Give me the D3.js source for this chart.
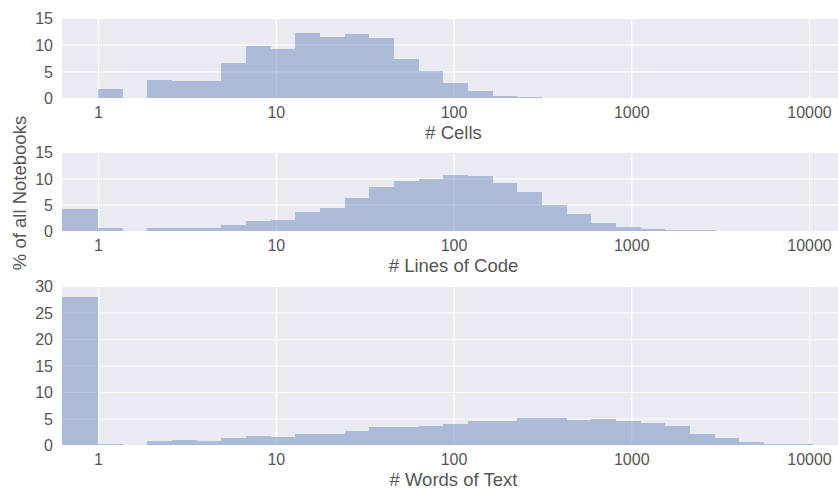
<!DOCTYPE html>
<html>
<head>
<meta charset="utf-8">
<script src="https://cdn.jsdelivr.net/npm/d3@7/dist/d3.min.js"></script>
<style>
  html, body { margin: 0; padding: 0; background: #ffffff; }
  svg { display: block; }
  text { font-family: "Liberation Sans", Arial, Helvetica, sans-serif; fill: #555555; }
</style>
</head>
<body>
<svg id="chart" width="838" height="488"></svg>
<script>
// Histogram bin edges (log-spaced); the first bin holds notebooks with a count of 0
const binEdges = [1, 1.376, 1.894, 2.608, 3.590, 4.941, 6.802, 9.362, 12.89, 17.74,
  24.42, 33.61, 46.27, 63.69, 87.67, 120.7, 166.1, 228.6, 314.7, 433.2,
  596.3, 820.8, 1130, 1555, 2140, 2946, 4055, 5582, 7683, 10574, 14555];
const zeroBinLow = 0.5;

// Percent of all notebooks per bin: [zero bin, then one value per log bin]
const cellsPct = [0, 1.6, 0, 3.35, 3.15, 3.15, 6.65, 9.7, 9.1, 12.1, 11.45, 12.05, 11.2, 7.4,
  5.05, 2.8, 1.25, 0.4, 0.2, 0, 0, 0, 0, 0, 0, 0, 0, 0, 0, 0, 0];
const locPct = [4.2, 0.63, 0, 0.6, 0.6, 0.6, 1.14, 1.9, 2.15, 3.55, 4.38, 6.35, 8.38, 9.4,
  9.84, 10.67, 10.48, 9.08, 7.49, 4.95, 3.17, 1.59, 0.7, 0.3, 0.13, 0.1, 0, 0, 0, 0, 0];
const wordsPct = [28.0, 0.25, 0, 0.75, 0.88, 0.7, 1.32, 1.7, 1.5, 2.13, 2.13, 2.7, 3.33, 3.4,
  3.58, 3.96, 4.53, 4.53, 5.15, 5.15, 4.65, 4.9, 4.53, 4.2, 3.65, 2.0, 1.26, 0.63, 0.25, 0.15, 0.05];

const xTicks = [1, 10, 100, 1000, 10000];
const xLabels = ["# Cells", "# Lines of Code", "# Words of Text"];
const yTicksSmall = [0, 5, 10, 15];
const yTicksLarge = [0, 5, 10, 15, 20, 25, 30];
const yLabel = "% of all Notebooks";

const svg = d3.select("#chart");
const left = 62, right = 845;
const x = d3.scaleLog().domain([0.627, 15942]).range([left, right]);

const panels = [
  { values: cellsPct, top: 18, bottom: 98, yMax: 15, yTicks: yTicksSmall, label: xLabels[0] },
  { values: locPct, top: 152, bottom: 231, yMax: 15, yTicks: yTicksSmall, label: xLabels[1] },
  { values: wordsPct, top: 286, bottom: 445, yMax: 30, yTicks: yTicksLarge, label: xLabels[2] }
];

panels.forEach((p, i) => {
  const y = d3.scaleLinear().domain([0, p.yMax]).range([p.bottom, p.top]);
  const g = svg.append("g");

  g.append("clipPath").attr("id", "clip" + i)
    .append("rect").attr("x", left).attr("y", p.top)
    .attr("width", right - left).attr("height", p.bottom - p.top);

  g.append("rect")
    .attr("x", left).attr("y", p.top)
    .attr("width", right - left).attr("height", p.bottom - p.top)
    .attr("fill", "#eaeaf2");

  // white grid lines
  const gridX = g.append("g").attr("transform", `translate(0,${p.bottom})`)
    .call(d3.axisBottom(x).tickValues(xTicks).tickSize(-(p.bottom - p.top)).tickFormat(""));
  const gridY = g.append("g").attr("transform", `translate(${left},0)`)
    .call(d3.axisLeft(y).tickValues(p.yTicks).tickSize(-(right - left)).tickFormat(""));
  [gridX, gridY].forEach(a => {
    a.select(".domain").remove();
    a.selectAll("line").attr("stroke", "#ffffff").attr("stroke-width", 1.2);
  });

  // bars
  const bins = p.values.map((v, k) => ({
    x0: k === 0 ? zeroBinLow : binEdges[k - 1],
    x1: k === 0 ? binEdges[0] : binEdges[k],
    v
  })).filter(b => b.v > 0);

  g.append("g").attr("clip-path", `url(#clip${i})`)
    .selectAll("rect").data(bins).join("rect")
    .attr("x", d => x(d.x0))
    .attr("width", d => x(d.x1) - x(d.x0))
    .attr("y", d => y(d.v))
    .attr("height", d => y(0) - y(d.v))
    .attr("fill", "#4c72b0")
    .attr("fill-opacity", 0.4)
    .attr("shape-rendering", "crispEdges");

  // tick labels
  const ax = g.append("g").attr("transform", `translate(0,${p.bottom})`)
    .call(d3.axisBottom(x).tickValues(xTicks).tickSize(0).tickPadding(9).tickFormat(d3.format("d")));
  const ay = g.append("g").attr("transform", `translate(${left},0)`)
    .call(d3.axisLeft(y).tickValues(p.yTicks).tickSize(0).tickPadding(9).tickFormat(d3.format("d")));
  [ax, ay].forEach(a => {
    a.select(".domain").remove();
    a.selectAll("text").attr("font-size", 16).attr("font-family", null).attr("fill", "#555555");
  });
  ay.selectAll("text").attr("dy", "0.36em");

  g.append("text")
    .attr("x", (left + right) / 2)
    .attr("y", p.bottom + 40.5)
    .attr("text-anchor", "middle")
    .attr("font-size", 18.5)
    .text(p.label);
});

svg.append("text")
  .attr("transform", "translate(26,193) rotate(-90)")
  .attr("text-anchor", "middle")
  .attr("font-size", 18.5)
  .text(yLabel);
</script>
</body>
</html>
